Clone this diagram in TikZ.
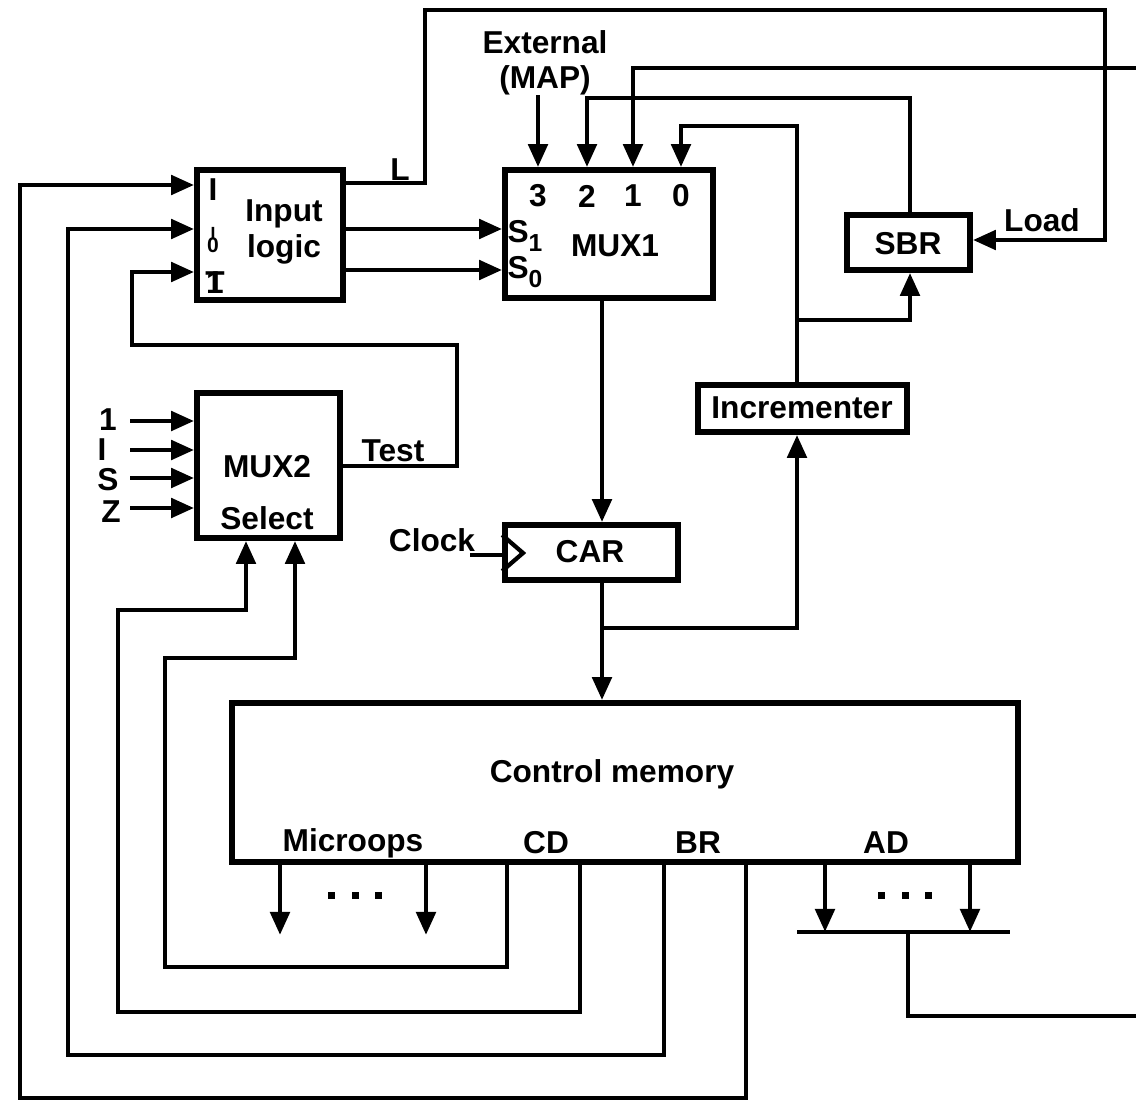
\documentclass[tikz,border=0pt]{standalone}
\usepackage{fontspec}
\setmainfont{Liberation Sans}
\usepackage{tikz}
\usetikzlibrary{arrows.meta}
\tikzstyle{bloco}=[rectangle, draw=black, line width=1.6pt, inner sep=0pt]
\tikzstyle{rotulo}=[inner sep=0pt, font=\fontsize{9}{10}\selectfont\bfseries]
\tikzstyle{fio}=[draw=black, line width=1.4pt]
\tikzstyle{seta}=[fio, -{Triangle[length=0.23cm, width=0.19cm]}]
\newcommand{\pontos}{\rule{0.07cm}{0.07cm}\hspace{0.16cm}\rule{0.07cm}{0.07cm}\hspace{0.16cm}\rule{0.07cm}{0.07cm}}
\newcommand{\indice}[1]{\raisebox{-2.5pt}{\fontsize{7}{8}\selectfont #1}}

\begin{document}
\begin{tikzpicture}[x=0.01cm, y=-0.01cm]
	\useasboundingbox (0,0) rectangle (1136,1103);
	% blocos
	\node[bloco, minimum width=1.46cm, minimum height=1.30cm] (il) at (270,235) {};
	\node[bloco, minimum width=2.08cm, minimum height=1.28cm] (mux1) at (609,234) {};
	\node[bloco, minimum width=1.23cm, minimum height=0.55cm] (sbr) at (908.5,242.5) {};
	\node[bloco, minimum width=2.09cm, minimum height=0.47cm] (inc) at (802.5,408.5) {};
	\node[bloco, minimum width=1.43cm, minimum height=1.45cm] (mux2) at (268.5,465.5) {};
	\node[bloco, minimum width=1.73cm, minimum height=0.55cm] (car) at (591.5,552.5) {};
	\node[bloco, minimum width=7.86cm, minimum height=1.59cm] (cm) at (625,782.5) {};
	% textos
	\node[rotulo] (tI) at (213,190) {I};
	\node[rotulo] (tI0) at (213,240) {\shortstack{\fontsize{5}{5}\selectfont I\\[-3.5pt]\fontsize{6}{6}\selectfont 0}};
	\node[rotulo] (tT) at (215,283) {\makebox[0pt]{T}\makebox[0pt]{1}};
	\node[rotulo, align=center] (til) at (284,232) {Input\\logic};
	\node[rotulo] (tL) at (400,170) {L};
	\node[rotulo, align=center] (text) at (545,63) {External\\(MAP)};
	\node[rotulo] (t3) at (538,196) {3};
	\node[rotulo] (t2) at (587,196) {2};
	\node[rotulo] (t1) at (633,196) {1};
	\node[rotulo] (t0) at (681,196) {0};
	\node[rotulo] (ts1) at (525,236) {S\indice{1}};
	\node[rotulo] (ts0) at (525,272) {S\indice{0}};
	\node[rotulo] (tmux1) at (615,246) {MUX1};
	\node[rotulo] (tsbr) at (908,244) {SBR};
	\node[rotulo] (tload) at (1042,220) {Load};
	\node[rotulo] (tinc) at (802,408) {Incrementer};
	\node[rotulo] (tmux2) at (267,467) {MUX2};
	\node[rotulo] (tsel) at (267,518) {Select};
	\node[rotulo] (ttest) at (393,451) {Test};
	\node[rotulo] (tum) at (108,420) {1};
	\node[rotulo] (tii) at (102,450) {I};
	\node[rotulo] (ts) at (108,480) {S};
	\node[rotulo] (tz) at (111,512) {Z};
	\node[rotulo] (tclk) at (432,540) {Clock};
	\node[rotulo] (tcar) at (590,552) {CAR};
	\node[rotulo] (tcm) at (612,774) {Control memory};
	\node[rotulo] (tmic) at (353,843) {Microops};
	\node[rotulo] (tcd) at (546,843) {CD};
	\node[rotulo] (tbr) at (698,843) {BR};
	\node[rotulo] (tad) at (886,843) {AD};
	\node[inner sep=0pt] (pt1) at (355,895) {\pontos};
	\node[inner sep=0pt] (pt2) at (905,895) {\pontos};
	% pontas livres
	\coordinate (ext) at (538,95);
	\coordinate (d1) at (1136,68);
	\coordinate (d2) at (1136,1016);
	\coordinate (clk) at (470,555);
	% entradas do MUX1
	\path[seta] (ext) -- (mux1.north -| ext);
	\path[seta] (d1) -- (633,68) -- (mux1.north -| 633,0);
	\path[seta] (sbr.north -| 910,0) -- (910,98) -- (587,98) -- (mux1.north -| 587,0);
	\path[seta] (inc.north -| 797,0) -- (797,126) -- (681,126) -- (mux1.north -| 681,0);
	\path[seta] (797,320) -- (910,320) -- (sbr.south -| 910,0);
	\path[seta] (il.east |- 0,229) -- (mux1.west |- 0,229);
	\path[seta] (il.east |- 0,270) -- (mux1.west |- 0,270);
	\path[seta] (il.east |- 0,183) -- (425,183) -- (425,10) -- (1105,10) -- (1105,240) -- (sbr.east |- 0,240);
	% MUX1, CAR e memoria
	\path[seta] (mux1.south -| 602,0) -- (car.north -| 602,0);
	\path[seta] (car.south -| 602,0) -- (cm.north -| 602,0);
	\path[seta] (602,628) -- (797,628) -- (inc.south -| 797,0);
	\path[fio] (clk) -- (car.west |- clk);
	\path[fio, line width=1.2pt] (car.west |- 0,535) -- (523,553) -- (car.west |- 0,571);
	% MUX2
	\foreach \y in {421,450,478,508}
		\path[seta] (130,\y) -- (mux2.west |- 0,\y);
	\path[seta] (mux2.east |- 0,466) -- (457,466) -- (457,345) -- (132,345) -- (132,272) -- (il.west |- 0,272);
	% saidas da memoria
	\path[seta] (cm.south -| 280,0) -- (280,935);
	\path[seta] (cm.south -| 426,0) -- (426,935);
	\path[seta] (cm.south -| 825,0) -- (825,932);
	\path[seta] (cm.south -| 970,0) -- (970,932);
	\path[fio] (797,932) -- (1010,932);
	\path[fio] (908,932) -- (908,1016) -- (d2);
	\path[seta] (cm.south -| 507,0) -- (507,967) -- (165,967) -- (165,658) -- (295,658) -- (mux2.south -| 295,0);
	\path[seta] (cm.south -| 580,0) -- (580,1012) -- (118,1012) -- (118,610) -- (246,610) -- (mux2.south -| 246,0);
	\path[seta] (cm.south -| 664,0) -- (664,1055) -- (68,1055) -- (68,229) -- (il.west |- 0,229);
	\path[seta] (cm.south -| 746,0) -- (746,1098) -- (20,1098) -- (20,185) -- (il.west |- 0,185);
\end{tikzpicture}
\end{document}
